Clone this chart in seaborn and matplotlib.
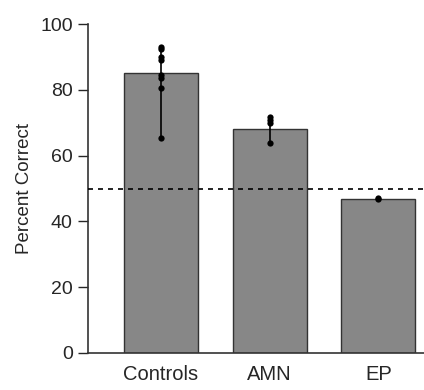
import matplotlib
matplotlib.use("Agg")
import matplotlib.pyplot as plt
import seaborn as sns
import pandas as pd

groups = ["Controls", "AMN", "EP"]
means = [85, 68, 46.8]
controls_pts = [93, 92.5, 90, 89, 84.5, 83.5, 80.5, 65.5]
amn_pts = [71.7, 71, 70, 64]
ep_pts = [47, 46.9]
chance = 50
yticks = [0, 20, 40, 60, 80, 100]

sns.set_style("white")
plt.rcParams['font.family'] = ['Liberation Sans', 'DejaVu Sans']

fig = plt.figure(figsize=(4.24, 3.90), dpi=100)
ax = fig.add_axes([0.2075, 0.095, 0.7925, 0.843])

df = pd.DataFrame({"group": groups, "mean": means})
sns.barplot(data=df, x="group", y="mean", color="#878787", saturation=1,
            width=0.68, edgecolor="#333333", linewidth=1.0, ax=ax, errorbar=None)

pts = pd.DataFrame({
    "group": ["Controls"] * len(controls_pts) + ["AMN"] * len(amn_pts) + ["EP"] * len(ep_pts),
    "val": controls_pts + amn_pts + ep_pts,
})
for i, g in enumerate(groups):
    v = pts.loc[pts.group == g, "val"]
    ax.vlines(i, v.min(), v.max(), color="black", lw=1.2, zorder=3)
sns.stripplot(data=pts, x="group", y="val", order=groups, jitter=False,
              color="black", size=4.5, ax=ax, zorder=4)

ax.axhline(chance, color="black", ls=(0, (3, 3)), lw=1.2, zorder=5)

ax.set_xlim(-0.67, 2.42)
ax.set_ylim(0, 100)
ax.set_yticks(yticks)
ax.tick_params(axis="y", direction="out", length=7, width=1, labelsize=14, pad=4, left=True)
ax.tick_params(axis="x", length=0, labelsize=14.5, pad=9)
ax.set_xlabel("")
ax.set_ylabel("Percent Correct", fontsize=13.5, labelpad=5)
sns.despine(ax=ax)
for s in ["left", "bottom"]:
    ax.spines[s].set_color("#333333")
    ax.spines[s].set_linewidth(1.2)
ax.spines["left"].set_bounds(0, 100)

fig.savefig("out.png", dpi=100)
